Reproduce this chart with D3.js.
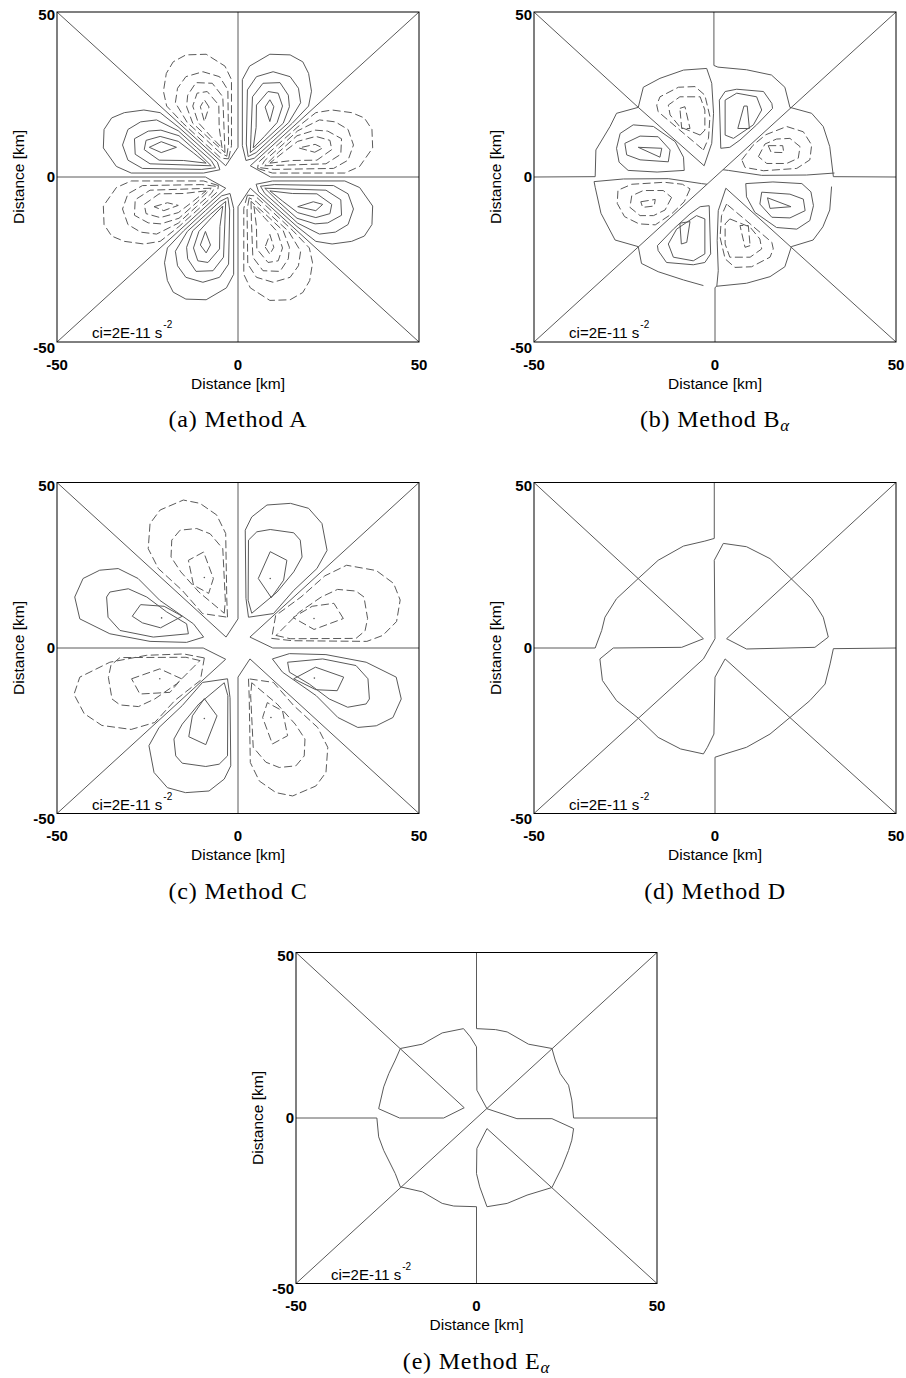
<!DOCTYPE html>
<html>
<head>
<meta charset="utf-8">
<script src="https://cdn.jsdelivr.net/npm/d3@7"></script>
<style>
  body { margin: 0; background: #ffffff; }
  svg { display: block; }
</style>
</head>
<body>
<svg id="fig" width="906" height="1378"></svg>
<script>
// ---------------------------------------------------------------------------
// Contour data, in km. Each panel: zero-level polylines (solid, open),
// positive contours (solid, closed) and negative contours (dashed, closed).
// ---------------------------------------------------------------------------
const extent = [-50, 50];
const tickValues = [-50, 0, 50];
const axisTitle = "Distance [km]";
const intervalText = "ci=2E-11 s";
const intervalExp = "-2";
const captionMain = ["(a) Method A", "(b) Method B", "(c) Method C", "(d) Method D", "(e) Method E"];
const captionSub = ["", "\u03b1", "", "", "\u03b1"];

// ----- Method A -----
const zeroA = [
  [[50,0],[9,0],[3.4,3.4],[50,50]],
  [[0,50],[0,9],[-3.4,3.4],[-50,50]],
  [[-50,0],[-9,0],[-3.4,-3.4],[-50,-50]],
  [[0,-50],[0,-9],[3.4,-3.4],[50,-50]]
];
const posA = [
  // lobe 45..90 deg
  [[2.2,5],[1.2,9.5],[1.2,29.5],[3.2,33.6],[8.8,37.2],[14.4,37],[17.9,34.9],[19.5,31.4],[20.3,26],[19.5,21.5],[15,16.3],[9,10.2],[4.5,5.7]],
  [[2.8,6.2],[2.3,10],[2.6,26.4],[5.1,30.4],[9.7,31.9],[14.4,30.4],[16.7,26.9],[17.3,22.5],[14,16.5],[9,11.5],[5,7.4]],
  [[3.4,7.4],[3.6,13],[4,24.3],[6.9,28.4],[11.6,28.6],[13.9,24.8],[14.2,21.3],[12.5,16.3],[7.5,11.2]],
  [[4.2,8.8],[5,15],[5.1,21.8],[8.3,25.9],[11.1,25.4],[12.3,21.5],[10.8,16.5],[7.3,12.3]],
  [[7.5,21.2],[8.8,23.4],[9.9,21.3],[8.8,16.8]],
  // lobe 135..180 deg
  [[-5,2.2],[-9.5,1.2],[-29.5,1.2],[-33.6,3.2],[-37.2,8.8],[-37,14.4],[-34.9,17.9],[-31.4,19.5],[-26,20.3],[-21.5,19.5],[-16.3,15],[-10.2,9],[-5.7,4.5]],
  [[-6.2,2.8],[-10,2.3],[-26.4,2.6],[-30.4,5.1],[-31.9,9.7],[-30.4,14.4],[-26.9,16.7],[-22.5,17.3],[-16.5,14],[-11.5,9],[-7.4,5]],
  [[-7.4,3.4],[-13,3.6],[-24.3,4],[-28.4,6.9],[-28.6,11.6],[-24.8,13.9],[-21.3,14.2],[-16.3,12.5],[-11.2,7.5]],
  [[-8.8,4.2],[-15,5],[-21.8,5.1],[-25.9,8.3],[-25.4,11.1],[-21.5,12.3],[-16.5,10.8],[-12.3,7.3]],
  [[-24.5,9],[-21.2,10.7],[-17,9],[-21.2,7.4]],
  // lobe 225..270 deg
  [[-2.2,-5],[-1.2,-9.5],[-1.2,-29.5],[-3.2,-33.6],[-8.8,-37.2],[-14.4,-37],[-17.9,-34.9],[-19.5,-31.4],[-20.3,-26],[-19.5,-21.5],[-15,-16.3],[-9,-10.2],[-4.5,-5.7]],
  [[-2.8,-6.2],[-2.3,-10],[-2.6,-26.4],[-5.1,-30.4],[-9.7,-31.9],[-14.4,-30.4],[-16.7,-26.9],[-17.3,-22.5],[-14,-16.5],[-9,-11.5],[-5,-7.4]],
  [[-3.4,-7.4],[-3.6,-13],[-4,-24.3],[-6.9,-28.4],[-11.6,-28.6],[-13.9,-24.8],[-14.2,-21.3],[-12.5,-16.3],[-7.5,-11.2]],
  [[-4.2,-8.8],[-5,-15],[-5.1,-21.8],[-8.3,-25.9],[-11.1,-25.4],[-12.3,-21.5],[-10.8,-16.5],[-7.3,-12.3]],
  [[-7.6,-20.6],[-8.8,-23],[-10.4,-20.6],[-9,-16.5]],
  // lobe 315..360 deg
  [[5,-2.2],[9.5,-1.2],[29.5,-1.2],[33.6,-3.2],[37.2,-8.8],[37,-14.4],[34.9,-17.9],[31.4,-19.5],[26,-20.3],[21.5,-19.5],[16.3,-15],[10.2,-9],[5.7,-4.5]],
  [[6.2,-2.8],[10,-2.3],[26.4,-2.6],[30.4,-5.1],[31.9,-9.7],[30.4,-14.4],[26.9,-16.7],[22.5,-17.3],[16.5,-14],[11.5,-9],[7.4,-5]],
  [[7.4,-3.4],[13,-3.6],[24.3,-4],[28.4,-6.9],[28.6,-11.6],[24.8,-13.9],[21.3,-14.2],[16.3,-12.5],[11.2,-7.5]],
  [[8.8,-4.2],[15,-5],[21.8,-5.1],[25.9,-8.3],[25.4,-11.1],[21.5,-12.3],[16.5,-10.8],[12.3,-7.3]],
  [[16.5,-9],[20.8,-7.5],[23.4,-8.3],[21.5,-10.2]]
];
const negA = [
  // lobe 0..45 deg
  [[5.4,2.6],[9.5,1.2],[29.5,1.2],[33.6,3.2],[37.2,8.8],[37,14.4],[34.9,17.9],[31.4,19.5],[26,20.3],[21.5,19.5],[16.3,15],[10.2,9],[5.7,4.5]],
  [[6.2,2.8],[10,2.3],[26.4,2.6],[30.4,5.1],[31.9,9.7],[30.4,14.4],[26.9,16.7],[22.5,17.3],[16.5,14],[11.5,9],[7.4,5]],
  [[7.4,3.4],[13,3.6],[24.3,4],[28.4,6.9],[28.6,11.6],[24.8,13.9],[21.3,14.2],[16.3,12.5],[11.2,7.5]],
  [[8.8,4.2],[15,5],[21.8,5.1],[25.9,8.3],[25.4,11.1],[21.5,12.3],[16.5,10.8],[12.3,7.3]],
  [[21.2,7.5],[23.4,8.8],[21.3,9.9],[16.8,8.8]],
  // lobe 90..135 deg
  [[-2.6,5.5],[-1.8,9.5],[-1.8,29.5],[-3.6,33.6],[-8.8,37.2],[-14.4,37],[-17.9,34.9],[-19.8,31.4],[-20.6,26],[-19.7,21.5],[-15.2,16.3],[-9.2,10.2],[-4.7,5.7]],
  [[-3.1,6.3],[-2.6,10],[-2.8,26.4],[-5.1,30.4],[-9.7,31.9],[-14.4,30.4],[-16.7,26.9],[-17.3,22.5],[-14,16.5],[-9,11.5],[-5,7.4]],
  [[-3.6,7.4],[-3.8,13],[-4.2,24.3],[-7.1,28.4],[-11.6,28.6],[-13.9,24.8],[-14.2,21.3],[-12.5,16.3],[-7.5,11.2]],
  [[-4.4,8.8],[-5.2,15],[-5.3,21.8],[-8.5,25.9],[-11.3,25.4],[-12.5,21.5],[-11,16.5],[-7.5,12.3]],
  [[-8,21.2],[-9.3,23.4],[-10.4,21.3],[-9.3,16.8]],
  // lobe 180..225 deg
  [[-5.4,-2.6],[-9.5,-1.2],[-29.5,-1.2],[-33.6,-3.2],[-37.2,-8.8],[-37,-14.4],[-34.9,-17.9],[-31.4,-19.5],[-26,-20.3],[-21.5,-19.5],[-16.3,-15],[-10.2,-9],[-5.7,-4.5]],
  [[-6.2,-2.8],[-10,-2.3],[-26.4,-2.6],[-30.4,-5.1],[-31.9,-9.7],[-30.4,-14.4],[-26.9,-16.7],[-22.5,-17.3],[-16.5,-14],[-11.5,-9],[-7.4,-5]],
  [[-7.4,-3.4],[-13,-3.6],[-24.3,-4],[-28.4,-6.9],[-28.6,-11.6],[-24.8,-13.9],[-21.3,-14.2],[-16.3,-12.5],[-11.2,-7.5]],
  [[-8.8,-4.2],[-15,-5],[-21.8,-5.1],[-25.9,-8.3],[-25.4,-11.1],[-21.5,-12.3],[-16.5,-10.8],[-12.3,-7.3]],
  [[-23.2,-9],[-19.5,-7.8],[-16.5,-8.6],[-20.5,-10.2]],
  // lobe 270..315 deg
  [[2.6,-5.5],[1.6,-9.5],[1.6,-29.5],[3.4,-33.6],[8.8,-37.4],[14.4,-37.2],[17.9,-35],[19.8,-31.4],[20.6,-26],[19.7,-21.5],[15.2,-16.3],[9.2,-10.2],[4.7,-5.7]],
  [[3.1,-6.3],[2.5,-10],[2.7,-26.4],[5.1,-30.4],[9.7,-31.9],[14.4,-30.4],[16.7,-26.9],[17.3,-22.5],[14,-16.5],[9,-11.5],[5,-7.4]],
  [[3.6,-7.4],[3.7,-13],[4.1,-24.3],[6.9,-28.4],[11.6,-28.6],[13.9,-24.8],[14.2,-21.3],[12.5,-16.3],[7.5,-11.2]],
  [[4.4,-8.8],[5.1,-15],[5.2,-21.8],[8.3,-25.9],[11.1,-25.4],[12.3,-21.5],[10.8,-16.5],[7.3,-12.3]],
  [[7.5,-21.2],[8.8,-23.4],[9.9,-21.3],[8.8,-17.4]]
];

// ----- Method B-alpha -----
const zeroB = [
  [[-0.3,50],[-0.3,33.8],[0.8,33.3],[8.7,32.5],[15.6,30.9],[19.3,27.2],[20.7,21.1],[26.7,19.3],[29.9,15.3],[31.7,9.2],[32.7,0.1],[50,0]],
  [[50,50],[-50,-50]],
  [[-50,50],[-21.2,21.1],[-3,3.4],[-0.9,10.2],[-0.4,19.3],[-0.9,28.4],[-2.3,32.9],[-8.7,32.4],[-15.2,29.9],[-19.8,27.2],[-21.2,21.1],[-27.2,19.3],[-29,15.3],[-32.9,8.2],[-33.1,0.1],[-50,0]],
  [[33,1.2],[25.3,0.6],[12.9,0.5],[3.7,2],[2.2,2.2]],
  [[-2.2,-2.2],[-3.7,-2],[-12.9,-0.5],[-25.3,-0.6],[-33.4,-1.4],[-33.1,-3.1],[-31.5,-11],[-27.6,-19.1],[-21.2,-21.1],[-20.3,-26.2],[-15.7,-28.7],[-8.7,-31.2],[-3.2,-32.9]],
  [[50,-50],[3,-3.4],[0.9,-10.2],[0.6,-19.3],[0.9,-28.4],[0.5,-33.1]],
  [[0,-50],[0,-33.5],[0.5,-33.1],[8.7,-32.2],[15.2,-30.2],[19.3,-27.2],[21.1,-21.1],[27.1,-19.1],[29.8,-15.1],[31.7,-10],[32.2,-2.9]]
];
const posB = [
  [[1.6,8.7],[1.2,23.3],[2.8,25.9],[6,26.6],[13.4,25.9],[15.7,22.3],[15.9,20.8],[11.5,15.8],[6.9,11.2],[4.1,9]],
  [[2.8,12.7],[2.8,23.3],[6,25.4],[11.5,24.3],[12.9,20.3],[10.6,15.8],[5.1,11.7]],
  [[8,21.5],[8.9,21.5],[9.5,14.7],[6.3,14.7]],
  [[-8.5,2],[-16,1.5],[-24,2],[-26.5,4.5],[-27.2,8.7],[-26.2,13.2],[-22.6,15.8],[-17,15.3],[-11,10.7],[-8.7,6]],
  [[-12.9,4.6],[-20.7,5.2],[-24.4,6.7],[-24.9,10.2],[-20.7,12.4],[-15.7,12.2],[-12.4,8.2]],
  [[-21.2,9],[-14.7,8.7],[-15.2,6]],
  [[-1.6,-8.7],[-1.2,-23.3],[-2.8,-25.9],[-6,-26.6],[-13.4,-25.9],[-15.7,-22.3],[-15.9,-20.8],[-11.5,-15.8],[-6.9,-11.2],[-4.1,-9]],
  [[-2.8,-12.7],[-2.8,-23.3],[-6,-25.4],[-11.5,-24.3],[-12.9,-20.3],[-10.6,-15.8],[-5.1,-11.7]],
  [[-9.7,-14],[-6.9,-13.5],[-7.8,-19.8],[-9.3,-20.3]],
  [[8.5,-2],[8.7,-6],[11,-10.7],[17,-15.3],[22.6,-15.8],[26.2,-13.2],[27.2,-8.7],[26.5,-4.5],[24,-2],[16,-1.5]],
  [[12.9,-4.6],[12.4,-8.2],[15.7,-12.2],[20.7,-12.4],[24.9,-10.2],[24.4,-6.7],[20.7,-5.2]],
  [[14.5,-6.3],[21,-9],[15.2,-9.5]]
];
const negB = [
  [[7.4,5.2],[10.5,9.6],[14,12.8],[19.8,15.3],[24.4,13.7],[26.7,9.7],[26.2,5.2],[22.6,2.6],[13.4,1.9],[8.3,2.9]],
  [[12,6.2],[13.8,10],[17,11.5],[20.7,11.7],[23.5,9.2],[23,5.7],[19.8,4.1],[14.3,4.1]],
  [[14.7,9.5],[18.7,9.5],[19,7.4],[15.5,7.5]],
  [[-3.2,8.2],[-1.8,11.7],[-1.4,18.3],[-2.8,24.8],[-5.5,27.4],[-10.1,27.2],[-15.2,24.3],[-16.1,21.8],[-15.7,19.8],[-9.7,14.2]],
  [[-4.1,12.7],[-2.8,14.2],[-2.8,20.3],[-4.1,24.3],[-9.7,24.3],[-12.9,21.8],[-12.4,18.8],[-9.7,15.2]],
  [[-9.7,20.8],[-8.3,21.3],[-6.9,14.7],[-9.2,14.7]],
  [[-6.9,-3.6],[-8.5,-7.5],[-12,-11.2],[-16.5,-14.5],[-21,-14.2],[-25,-12],[-27,-8],[-26.8,-4],[-23,-2.2],[-14,-1.6],[-9,-2.2]],
  [[-12,-6.2],[-13.8,-10],[-17,-11.7],[-20.7,-11.7],[-23.5,-9.2],[-23,-5.7],[-19.8,-4.1],[-14.3,-4.1]],
  [[-20.5,-7.5],[-16.5,-6.8],[-16.8,-8.8],[-20,-9.2]],
  [[3.2,-8.2],[1.8,-11.7],[1.4,-18.3],[2.8,-24.8],[5.5,-27.4],[10.1,-27.2],[15.2,-24.3],[16.1,-21.8],[15.7,-19.8],[9.7,-14.2]],
  [[4.1,-12.7],[2.8,-14.2],[2.8,-20.3],[4.1,-24.3],[9.7,-24.3],[12.9,-21.8],[12.4,-18.8],[9.7,-15.2]],
  [[9.7,-20.8],[8.3,-21.3],[6.9,-14.7],[9.2,-14.7]]
];

// ----- Method C -----
const zeroC = [
  [[50,0],[9.6,0],[3.3,3.3],[50,50]],
  [[0,50],[0,8.8],[-3.3,3.3],[-50,50]],
  [[-50,0],[-9.6,0],[-3.4,-3.4],[-50,-50]],
  [[0,-50],[0,-8.8],[3.3,-3.3],[50,-50]]
];
const posC = [
  [[2.9,9.3],[2.2,15],[2,35.6],[3.8,39.6],[8,43.2],[14.5,43.7],[19.5,42.2],[23.2,37.6],[24.6,29.5],[21.8,24],[15.4,17.4],[9.8,10.4]],
  [[3.8,10.5],[2.8,14.4],[2.9,32.6],[5.2,35.1],[8.9,35.8],[15.4,34.8],[17.2,32.6],[17.7,27.5],[15.4,23],[10.8,16.9]],
  [[8.9,29.1],[13.5,26.5],[12.6,20.5],[9.2,15.2],[5.6,21]],
  [[-9.5,3.3],[-14.2,1.7],[-24.3,2],[-35.4,4.3],[-43.7,8.8],[-45.1,15.4],[-42.8,21],[-38.2,23.5],[-33.1,24],[-27.6,21],[-21.6,14.4],[-12.3,7.3]],
  [[-13.7,4.3],[-23.4,3.3],[-32.6,5.3],[-35.9,9.3],[-36.3,15.4],[-35.4,16.9],[-30.3,17.9],[-25.2,15.4],[-19.7,10.9],[-14.2,7.3]],
  [[-29.2,9.6],[-26.9,13.1],[-20.4,12.6],[-15.4,9.6],[-21.4,6.1],[-26.4,7.6]],
  [[-2.9,-9.3],[-2.2,-15],[-2,-35.6],[-3.8,-39.6],[-8,-43.2],[-14.5,-43.7],[-19.5,-42.2],[-23.2,-37.6],[-24.6,-29.5],[-21.8,-24],[-15.4,-17.4],[-9.8,-10.4]],
  [[-3.8,-10.5],[-2.8,-14.4],[-2.9,-32.6],[-5.2,-35.1],[-8.9,-35.8],[-15.4,-34.8],[-17.2,-32.6],[-17.7,-27.5],[-15.4,-23],[-10.8,-16.9]],
  [[-9.3,-15.3],[-5.8,-20.5],[-8.9,-29.2],[-13.6,-26.8],[-12.6,-20.5]],
  [[9.5,-3.3],[14.2,-1.7],[24.3,-2],[35.4,-4.3],[43.7,-8.8],[45.1,-15.4],[42.8,-21],[38.2,-23.5],[33.1,-24],[27.6,-21],[21.6,-14.4],[12.3,-7.3]],
  [[13.7,-4.3],[23.4,-3.3],[32.6,-5.3],[35.9,-9.3],[36.3,-15.4],[35.4,-16.9],[30.3,-17.9],[25.2,-15.4],[19.7,-10.9],[14.2,-7.3]],
  [[15.4,-9.3],[21.4,-5.8],[29.2,-8.8],[27.4,-12.9],[21.5,-12.6]]
];
const negC = [
  [[9.3,2.9],[15,2.2],[35.6,2],[40,3.8],[43.8,8],[44.8,14.5],[43,19.5],[38.2,23.4],[30,25],[24,21.8],[17.4,15.4],[10.4,9.8]],
  [[10.5,3.8],[14.4,2.8],[32.6,2.9],[35.1,5.2],[35.8,8.9],[34.8,15.4],[32.6,17.2],[27.5,17.7],[23,15.4],[16.9,10.8]],
  [[29.1,8.9],[26.5,13.5],[20.5,12.6],[15.2,9.2],[21,5.6]],
  [[-2.9,9.3],[-3.1,15],[-3.4,34.6],[-5.9,40.2],[-10.5,43.7],[-15.1,44.7],[-21.5,41.7],[-24.3,37.6],[-24.8,30],[-22,24],[-15.4,17.4],[-9.8,10.4]],
  [[-3.8,10.5],[-3.5,14.4],[-4.2,30],[-7.7,34.5],[-11.4,36.1],[-16,35.6],[-18.3,32.6],[-18.5,27.5],[-15.8,23],[-10.8,16.9]],
  [[-9.5,29],[-13.7,26.5],[-12.3,19],[-8.1,16.5],[-6.8,21]],
  [[-9.3,-3],[-15,-1.8],[-25.2,-2.2],[-35.4,-4.3],[-43.7,-8.8],[-45.3,-14],[-42.5,-19.8],[-37.6,-23.4],[-29.5,-24.6],[-23,-22.5],[-17.4,-15.8],[-10.4,-9.8]],
  [[-10.5,-3.8],[-14.4,-2.8],[-32.6,-2.9],[-35.1,-5.2],[-35.8,-8.9],[-34.8,-15.4],[-32.6,-17.2],[-27.5,-17.7],[-23,-15.4],[-16.9,-10.8]],
  [[-29.4,-9.3],[-21.6,-6.3],[-15.6,-9.3],[-18.8,-13.4],[-27.1,-13.9]],
  [[2.9,-9.3],[3.1,-15],[3.4,-34.6],[5.9,-40.2],[10.5,-43.7],[15.1,-44.7],[21.5,-41.7],[24.3,-37.6],[24.8,-30],[22,-24],[15.4,-17.4],[9.8,-10.4]],
  [[3.8,-10.5],[3.5,-14.4],[4.2,-30],[7.7,-34.5],[11.4,-36.1],[16,-35.6],[18.3,-32.6],[18.5,-27.5],[15.8,-23],[10.8,-16.9]],
  [[9.5,-29],[13.7,-26.5],[12.3,-19],[8.1,-16.5],[6.8,-21]]
];
const peaksC = [[8.9,21],[21,8.9],[-9.3,21.3],[-21.1,9.1],[-21.6,-9.3],[-9.3,-21.3],[9.1,-21],[21.1,-9.1]];

// ----- Method D -----
const zeroD = [
  [[-0.2,50],[-0.2,33.1],[-2.8,32.3],[-8.7,30.8],[-15.7,26.5],[-21.2,21],[-27.2,14.9],[-30.4,9.3],[-31.3,5.3],[-33.1,0],[-50,0]],
  [[-50,50],[-3.2,2.8],[-9.2,0.2],[-28.1,0],[-31.8,-3.3],[-31.1,-9.8],[-27.2,-15.9],[-21.2,-21.2],[-15.7,-27],[-9.5,-30.5],[-3.2,-32],[-2.1,-30],[-0.3,-26],[0,-8.8],[2.8,-3.3],[50,-50]],
  [[50,50],[3.2,2.8],[8.7,-0.3],[27.6,0.2],[31.3,3.3],[29.9,9.3],[26.7,14.9],[20.7,21.3],[15.2,27],[8.7,30.6],[2.3,31.6],[-0.2,26.5],[0,2.8],[-3.2,-3.3],[-50,-50]],
  [[50,0],[32.7,-0.2],[31.8,-4.8],[30.4,-10.9],[26.2,-15.9],[20.7,-21],[15.2,-26],[8.7,-30],[2.8,-32],[0,-33],[0,-50]]
];

// ----- Method E-alpha -----
const zeroE = [
  [[0,50],[0,27],[5.3,26.7],[8.5,26],[14.4,22.3],[20.9,21],[21.8,17.5],[23.2,13.4],[25.5,9.9],[26.4,5.4],[26.9,0],[50,0]],
  [[50,50],[-50,-50]],
  [[-21.1,21],[-15,22.3],[-9.5,25.7],[-3.6,27],[-1.7,24.5],[0,21.5],[0.1,8.4],[2.9,2.8]],
  [[-50,50],[-3.4,3.1],[-9.1,0],[-21.3,0],[-27.1,2.8],[-25.7,9.4],[-24.3,13.4],[-22.5,17.5],[-21.1,21]],
  [[-50,0],[-27.6,0],[-27.1,-5.7],[-25.7,-9.8],[-22.5,-16.8],[-21.1,-20.8],[-15,-22.3],[-9.5,-25.8],[-6.3,-26.6],[0,-26.8],[0,-50]],
  [[50,-50],[2.9,-3.2],[0.1,-9.2],[0,-16.8],[0.9,-20.8],[2.9,-26.8],[8.5,-25.8],[14,-23.3],[20.9,-21],[23.7,-14.8],[25.5,-9.8],[26.4,-6.7],[26.9,-3.2],[20.9,-0.2],[11.2,-0.2],[2.9,2.8]]
];

// ---------------------------------------------------------------------------
// Layout (pixel boxes of the five plot frames)
// ---------------------------------------------------------------------------
const frames = [
  { x0: 57,  y0: 12,    w: 362, h: 330 },
  { x0: 534, y0: 12,    w: 362, h: 330 },
  { x0: 57,  y0: 482.5, w: 362, h: 331 },
  { x0: 534, y0: 482.5, w: 362, h: 331 },
  { x0: 296, y0: 952.5, w: 361, h: 331 }
];
const panelData = [
  { zero: zeroA, pos: posA, neg: negA, peaks: [] },
  { zero: zeroB, pos: posB, neg: negB, peaks: [] },
  { zero: zeroC, pos: posC, neg: negC, peaks: peaksC },
  { zero: zeroD, pos: [],   neg: [],   peaks: [] },
  { zero: zeroE, pos: [],   neg: [],   peaks: [] }
];

const LINE = "#5a5a5a";
const SANS = "'Liberation Sans', Arial, Helvetica, sans-serif";
const SERIF = "'Liberation Serif', 'Times New Roman', serif";
const yTickShift = { "-50": 10.5, "0": 5, "50": 8.3 };

const svg = d3.select("#fig");
const defs = svg.append("defs");

frames.forEach((f, i) => {
  const d = panelData[i];
  const x = d3.scaleLinear().domain(extent).range([f.x0, f.x0 + f.w]);
  const y = d3.scaleLinear().domain(extent).range([f.y0 + f.h, f.y0]);

  defs.append("clipPath").attr("id", "clip" + i)
    .append("rect").attr("x", f.x0).attr("y", f.y0).attr("width", f.w).attr("height", f.h);

  const openLine = d3.line().x(p => x(p[0])).y(p => y(p[1]));
  const closedLine = d3.line().x(p => x(p[0])).y(p => y(p[1])).curve(d3.curveLinearClosed);

  const g = svg.append("g").attr("clip-path", `url(#clip${i})`);

  g.selectAll("path.zero").data(d.zero).join("path")
    .attr("class", "zero").attr("d", openLine)
    .attr("fill", "none").attr("stroke", LINE).attr("stroke-width", 1);

  g.selectAll("path.pos").data(d.pos).join("path")
    .attr("class", "pos").attr("d", closedLine)
    .attr("fill", "none").attr("stroke", LINE).attr("stroke-width", 1);

  g.selectAll("path.neg").data(d.neg).join("path")
    .attr("class", "neg").attr("d", closedLine)
    .attr("fill", "none").attr("stroke", LINE).attr("stroke-width", 1)
    .attr("stroke-dasharray", "8,3.5");

  g.selectAll("circle.peak").data(d.peaks).join("circle")
    .attr("class", "peak").attr("cx", p => x(p[0])).attr("cy", p => y(p[1]))
    .attr("r", 0.8).attr("fill", LINE);

  // frame
  svg.append("rect").attr("x", f.x0).attr("y", f.y0).attr("width", f.w).attr("height", f.h)
    .attr("fill", "none").attr("stroke", "#000").attr("stroke-width", 1);

  // tick labels
  svg.append("g").selectAll("text").data(tickValues).join("text")
    .attr("x", v => x(v)).attr("y", y(-50) + 27.5)
    .attr("text-anchor", "middle").attr("font-family", SANS).attr("font-size", 15)
    .attr("font-weight", "bold").attr("fill", "#000").text(v => String(v));
  svg.append("g").selectAll("text").data(tickValues).join("text")
    .attr("x", x(-50) - 2).attr("y", v => y(v) + yTickShift[String(v)])
    .attr("text-anchor", "end").attr("font-family", SANS).attr("font-size", 15)
    .attr("font-weight", "bold").attr("fill", "#000").text(v => String(v));

  // axis titles
  svg.append("text").attr("x", x(0)).attr("y", y(-50) + 46.5)
    .attr("text-anchor", "middle").attr("font-family", SANS).attr("font-size", 15.5)
    .attr("fill", "#000").text(axisTitle);
  svg.append("text")
    .attr("transform", `translate(${x(-50) - 33.5},${y(0)}) rotate(-90)`)
    .attr("text-anchor", "middle").attr("font-family", SANS).attr("font-size", 15.5)
    .attr("fill", "#000").text(axisTitle);

  // contour interval note
  const note = svg.append("text").attr("x", x(-40.3)).attr("y", y(-48.9))
    .attr("font-family", SANS).attr("font-size", 15).attr("fill", "#000");
  note.append("tspan").text(intervalText);
  note.append("tspan").attr("dx", 1).attr("dy", -10).attr("font-size", 10).text(intervalExp);

  // caption
  const cap = svg.append("text").attr("x", x(0)).attr("y", y(-50) + 85)
    .attr("text-anchor", "middle").attr("font-family", SERIF).attr("font-size", 24)
    .attr("letter-spacing", 0.8).attr("fill", "#000");
  cap.append("tspan").text(captionMain[i]);
  if (captionSub[i]) {
    cap.append("tspan").attr("dy", 4).attr("font-size", 17).attr("font-style", "italic")
      .text(captionSub[i]);
  }
});
</script>
</body>
</html>
